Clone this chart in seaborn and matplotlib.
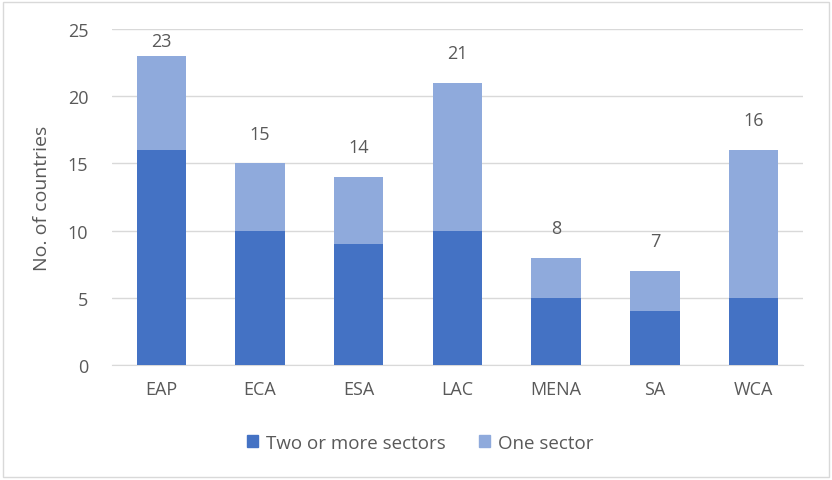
import pandas as pd
import seaborn as sns
import matplotlib.pyplot as plt
from matplotlib.patches import Patch, Rectangle

# data
regions = ["EAP", "ECA", "ESA", "LAC", "MENA", "SA", "WCA"]
two_or_more = [16, 10, 9, 10, 5, 4, 5]
one_sector = [7, 5, 5, 11, 3, 3, 11]

df = pd.DataFrame({"region": regions, "two": two_or_more, "one": one_sector})
df["total"] = df["two"] + df["one"]

dark = "#4472c4"
light = "#8faadc"
txt = "#595959"

sns.set_style("white")
plt.rcParams["font.family"] = ["Open Sans", "DejaVu Sans"]

fig = plt.figure(figsize=(8.32, 4.81), dpi=100)
ax = fig.add_axes([0.1346, 0.239, 0.8304, 0.6986])

# total first (light), then the bottom segment on top of it
sns.barplot(data=df, x="region", y="total", color=light, width=0.5,
            saturation=1, linewidth=0, ax=ax, zorder=2)
sns.barplot(data=df, x="region", y="two", color=dark, width=0.5,
            saturation=1, linewidth=0, ax=ax, zorder=3)

# labels sit well above the bar, but stay inside the plot area (like Excel)
for i, t in enumerate(df["total"]):
    ax.text(i, min(t + 2.2, 24.1), str(t), ha="center", va="center",
            fontsize=13, color=txt)

ax.set_ylim(0, 25)
ax.set_xlim(-0.5, len(regions) - 0.5)
ax.set_yticks(range(0, 26, 5))
ax.yaxis.grid(True, color="#d9d9d9", linewidth=1, zorder=0)
ax.set_axisbelow(True)
for s in ["top", "right", "left"]:
    ax.spines[s].set_visible(False)
ax.spines["bottom"].set_color("#d9d9d9")
ax.tick_params(axis="both", length=0, labelsize=13, labelcolor=txt, pad=11)
ax.tick_params(axis="y", pad=17)
ax.set_xlabel("")
ax.set_ylabel("No. of countries", fontsize=14, color=txt, labelpad=12)

handles = [Patch(color=dark, label="Two or more sectors"),
           Patch(color=light, label="One sector")]
fig.legend(handles=handles, loc="center", bbox_to_anchor=(0.505, 0.077), ncol=2,
           frameon=False, fontsize=13.5, labelcolor=txt, handlelength=0.6,
           handleheight=0.6, columnspacing=1.8, handletextpad=0.4)

# thin outer border like the source image
fig.patches.append(Rectangle((0.004, 0.006), 0.992, 0.988, transform=fig.transFigure,
                             fill=False, edgecolor="#d9d9d9", linewidth=1))

fig.savefig("out.png", dpi=100)
